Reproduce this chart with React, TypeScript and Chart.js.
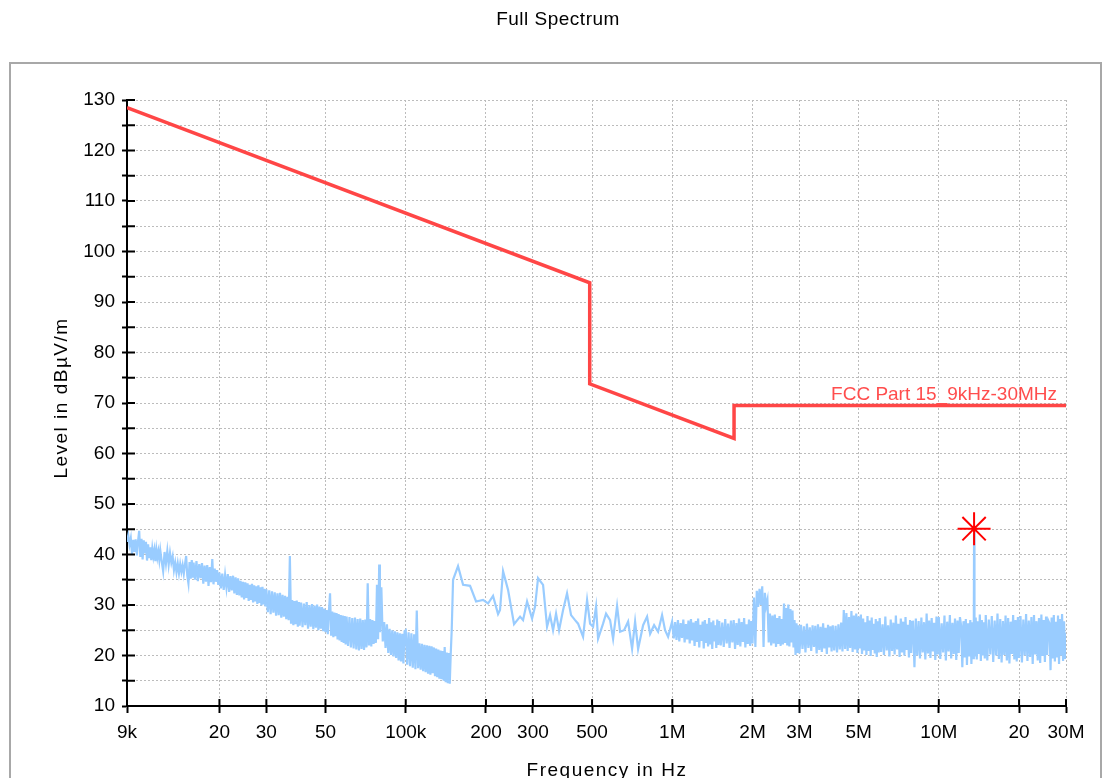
import React, { useEffect, useRef } from "react";
import { Chart, registerables } from "chart.js";

Chart.register(...registerables);

const titleText = "Full Spectrum";
const yAxisTitle = "Level in dBµV/m";
const xAxisTitle = "Frequency in Hz";
const limitLabel = "FCC Part 15_9kHz-30MHz";

const xTickValues = [9e3, 20e3, 30e3, 50e3, 100e3, 200e3, 300e3, 500e3, 1e6, 2e6, 3e6, 5e6, 10e6, 20e6, 30e6];
const xTickLabels = ["9k", "20", "30", "50", "100k", "200", "300", "500", "1M", "2M", "3M", "5M", "10M", "20", "30M"];
const yTickValues = [10, 15, 20, 25, 30, 35, 40, 45, 50, 55, 60, 65, 70, 75, 80, 85, 90, 95, 100, 105, 110, 115, 120, 125, 130];
const yTickLabels = ["10", "", "20", "", "30", "", "40", "", "50", "", "60", "", "70", "", "80", "", "90", "", "100", "", "110", "", "120", "", "130"];

// FCC limit line (Hz, dBµV/m)
const limitFreqHz = [9e3, 490e3, 490e3, 1.705e6, 1.705e6, 30e6];
const limitLevel = [128.5, 93.8, 73.8, 63.0, 69.5, 69.5];

// peak marker
const markerFreqHz = [13.56e6];
const markerLevel = [45.1];

// ---- measured trace, swept in segments (start, step in kHz or MHz; levels in dBµV/m) ----
const lvl9k = [42.5, 43.8, 41.9, 43.2, 40.1, 42.9, 40.5, 43.0, 39.8, 42.6, 44.7, 39.5, 43.1, 39.0, 42.8, 40.2, 42.5, 38.8, 42.0, 39.3, 41.4, 38.9, 41.2, 39.6, 40.9, 38.7, 41.0, 39.4, 40.6, 38.9];
const lvl12k = [40.8, 38.6, 36.7, 40.5, 38.2, 40.7, 38.0, 40.3, 38.4, 39.6, 36.9, 38.4, 36.5, 38.2, 36.3, 38.1, 36.6, 37.9, 36.2, 38.0, 39.7, 35.8, 34.3, 38.5, 35.2, 38.9, 35.4];
const lvl16k = [38.4, 35.0, 38.7, 34.7, 38.1, 35.3, 38.3, 34.2, 37.8, 34.6, 37.9, 33.8, 37.5, 34.5, 39.1, 34.1, 37.2, 34.6, 36.9, 34.0];
const lvl20k = [36.4, 33.3, 36.2, 33.0, 35.9, 33.4, 36.1, 32.6, 35.7, 32.9, 35.8, 32.3, 35.5, 32.0, 35.3, 31.9, 34.8, 31.5, 34.6, 31.1, 34.5, 31.4, 34.3, 30.8, 34.0, 31.0, 34.2, 30.5, 33.9, 30.7, 33.7, 30.2, 33.9, 30.4, 33.5, 29.9, 33.6, 30.1, 33.2, 29.7];
const lvl30k = [33.1, 28.6, 32.9, 28.2, 32.7, 28.5, 32.5, 27.9, 32.3, 28.0, 32.4, 27.5, 32.0, 27.7, 31.8, 27.2, 31.6, 27.0, 39.7, 26.3, 31.0, 26.0, 30.8, 26.2, 30.9, 25.7, 30.6];
const lvl40k = [25.9, 30.5, 25.6, 30.3, 26.0, 30.6, 25.3, 30.0, 25.7, 30.2, 25.2, 29.9, 25.5, 30.1, 25.0, 29.7, 25.3, 29.6, 24.8, 29.3, 24.6, 29.0, 24.2, 28.8, 32.3, 23.9, 28.7, 23.6, 28.5, 23.8, 28.4, 23.2, 28.2, 23.0, 28.0, 22.7, 27.9, 22.5, 27.8, 22.2];
const lvl60k = [27.7, 21.9, 27.6, 21.6, 27.4, 21.4, 27.5, 21.2, 27.2, 21.0, 27.3, 21.3, 27.0, 21.1, 27.1, 21.6, 34.3, 22.0, 27.2, 21.8, 27.0, 22.3, 26.8, 22.5, 34.0, 23.2, 38.0];
const lvl80k = [24.6, 33.5, 22.8, 26.6, 21.5, 26.2, 20.5, 25.3, 20.1, 25.0, 19.8, 24.8, 19.5, 24.6, 19.0, 24.4, 18.8, 24.3, 18.4, 24.8];
const lvl100k = [25.0, 18.2, 24.6, 17.9, 24.4, 17.6, 24.2, 17.3, 28.9, 17.5, 22.4, 17.2, 22.3, 16.9, 22.1, 16.7, 22.0, 16.4, 21.9, 16.2, 21.8, 16.5, 21.6, 15.9, 21.4, 15.7, 21.2, 15.4, 21.0, 15.3, 20.9, 15.0, 21.7, 14.7, 20.6, 14.5, 20.5, 14.4, 20.3, 25.0];

const lowSegmentsKHz = [
  { start: 9.0, step: 0.1, levels: lvl9k },
  { start: 12.0, step: 0.15, levels: lvl12k },
  { start: 16.0, step: 0.2, levels: lvl16k },
  { start: 20.0, step: 0.25, levels: lvl20k },
  { start: 30.0, step: 0.375, levels: lvl30k },
  { start: 40.0, step: 0.5, levels: lvl40k },
  { start: 60.0, step: 0.75, levels: lvl60k },
  { start: 80.0, step: 1.0, levels: lvl80k },
  { start: 100.0, step: 1.25, levels: lvl100k },
];

// 150 kHz - 1 MHz (kHz, dBµV/m)
const midBandKHz: [number, number][] = [
  [150.5, 35.0], [157.1, 37.7], [164.1, 34.0], [170, 33.9], [174.3, 33.8], [183.6, 30.7], [195.0, 31.0], [203.6, 30.3], [212.6, 31.8], [222.0, 28.2],
  [225.8, 29.0], [231.8, 36.7], [242.0, 33.0], [254.9, 26.2], [268.5, 27.7], [275.5, 27.0], [285.2, 30.7], [297.8, 27.3], [305.6, 29.7], [313.6, 35.3],
  [327.5, 34.0], [339.0, 25.7], [347.9, 28.0], [357.0, 25.0], [366.4, 28.3], [376.0, 25.0], [389.3, 29.0], [402.9, 32.3], [417.1, 28.0], [431.8, 27.0],
  [443.2, 26.3], [462.7, 23.7], [479.0, 31.0], [491.6, 26.3], [504.5, 25.7], [517.7, 29.7], [526.7, 23.3], [550.0, 26.3], [564.4, 28.3], [584.3, 27.0],
  [599.7, 23.3], [620.7, 29.8], [637.1, 24.7], [659.5, 25.0], [682.7, 26.7], [706.7, 21.3], [725.2, 26.7], [744.3, 21.3], [777.2, 26.0], [804.4, 27.7],
  [825.7, 24.3], [854.6, 26.0], [884.5, 24.7], [915.6, 28.0], [939.6, 25.0], [964.4, 23.7], [998.3, 26.7],
];

const lvl1M = [23.4, 26.6, 23.1, 27.0, 22.8, 26.4, 23.5, 27.1, 22.6, 26.2, 23.2, 26.9, 22.4, 27.2, 23.0, 26.5, 21.9, 26.8, 22.7, 27.3, 21.6, 26.1, 22.9, 26.7, 21.4, 27.0, 22.5, 26.3, 21.8, 27.4, 22.2, 26.6, 21.3, 26.9, 22.8, 26.0, 21.5, 27.1, 22.1];
const lvl1M5 = [26.8, 22.0, 26.5, 21.7, 27.2, 22.4, 26.3, 21.5, 26.9, 22.6, 27.0, 21.3, 26.4, 22.1, 27.3, 21.8, 26.6, 22.7, 27.4, 21.6, 26.2, 22.3, 27.1, 21.9, 26.8];
const lvl2M = [22.4, 31.5, 21.7, 32.8, 29.6, 33.2, 30.0, 33.7, 21.7, 32.4, 29.8, 31.0, 22.6, 28.3, 22.0, 27.9, 22.4, 28.1, 21.7, 27.4, 22.3, 27.8, 21.9, 27.2, 22.2, 30.3, 22.5, 29.4, 22.0, 30.1, 21.8, 29.2, 22.6, 28.9, 21.6, 27.0, 20.1, 26.4, 20.5, 26.0];
const lvl3M = [20.4, 26.1, 21.3, 25.8, 20.6, 26.3, 21.5, 25.6, 20.9, 26.0, 21.7, 25.9, 20.4, 26.2, 21.1, 25.7, 20.7, 26.4, 21.4, 25.5, 20.3, 26.1, 21.6, 25.8, 20.8];
const lvl4M = [26.0, 21.0, 25.9, 20.6, 26.2, 21.2, 26.5, 20.8, 29.0, 21.3, 28.4, 20.9, 27.6, 21.5, 28.8, 20.7, 27.9, 21.2, 28.3, 20.5, 27.7, 21.4, 28.1, 20.3, 27.3, 21.0, 26.6, 20.1, 27.8, 20.9, 26.9, 19.9, 27.5, 21.1, 26.3, 20.4, 27.2, 19.7, 26.8, 20.6];
const lvl6M = [27.4, 20.7, 26.2, 20.1, 27.7, 21.0, 26.0, 19.8, 27.1, 20.9, 26.5, 20.2, 27.9, 21.2, 26.3, 19.7, 27.3, 20.6, 26.7, 20.0, 27.6, 21.1, 26.1, 19.6, 27.0, 20.5, 26.6];
const lvl8M = [26.9, 17.7, 27.3, 20.0, 26.8, 19.4, 27.5, 20.6, 26.6, 19.2, 28.3, 20.4, 26.9, 19.5, 27.4, 20.8, 26.5, 19.1, 27.7, 20.2];
const lvl10M = [27.6, 19.3, 26.4, 20.6, 27.9, 19.0, 26.7, 20.8, 28.0, 19.4, 26.5, 20.3, 27.3, 19.1, 26.9, 20.5, 27.6, 25.9, 17.7, 26.8, 19.6, 27.2, 18.1, 26.4, 19.8, 27.0, 18.3, 26.6, 19.5];
const lvlSpike = [26.5, 45.1, 25.8];
const lvl13M6 = [19.8, 27.5, 19.2, 26.8, 20.3, 28.1, 18.9, 27.0, 20.0, 26.6, 19.4];
const lvl15M = [28.0, 19.0, 27.1, 20.2, 27.8, 18.7, 26.9, 20.0, 28.3, 19.3, 27.2, 18.6, 26.8, 20.1, 27.9, 19.0, 27.4, 18.4, 26.7, 20.3, 28.0, 19.2, 27.0, 18.8, 27.6];
const lvl20M = [19.5, 27.8, 18.6, 27.1, 20.0, 28.2, 18.9, 26.9, 19.7, 27.6, 18.3, 28.0, 20.2, 26.8, 19.0, 27.4, 18.5, 28.1, 19.9, 27.0, 18.7, 27.7, 20.1, 26.9, 26.4, 17.1, 27.5, 19.4, 28.0, 18.8, 26.7, 19.6, 27.9, 18.3, 27.2, 20.0, 28.2, 18.9, 26.8, 19.3, 24.5];

const highSegmentsMHz = [
  { start: 1.0125, step: 0.0125, levels: lvl1M },
  { start: 1.5, step: 0.02, levels: lvl1M5 },
  { start: 2.0, step: 0.025, levels: lvl2M },
  { start: 3.0, step: 0.04, levels: lvl3M },
  { start: 4.0, step: 0.05, levels: lvl4M },
  { start: 6.0, step: 0.075, levels: lvl6M },
  { start: 8.0, step: 0.1, levels: lvl8M },
  { start: 10.0, step: 0.125, levels: lvl10M },
  { start: 13.53, step: 0.03, levels: lvlSpike },
  { start: 13.625, step: 0.125, levels: lvl13M6 },
  { start: 15.0, step: 0.2, levels: lvl15M },
  { start: 20.0, step: 0.25, levels: lvl20M },
];

const FONT = '"Liberation Sans", Arial, sans-serif';

const decorPlugin = {
  id: "decor",
  beforeDraw(chart: any) {
    const ctx = chart.ctx;
    ctx.save();
    ctx.fillStyle = "#ffffff";
    ctx.fillRect(0, 0, chart.width, chart.height);
    ctx.strokeStyle = "#a8a8a8";
    ctx.lineWidth = 2;
    ctx.strokeRect(10, 63, 1091, 800);
    ctx.restore();
  },
  afterDraw(chart: any) {
    const { ctx, chartArea, scales } = chart;
    const xs = scales.x;
    const ys = scales.y;
    ctx.save();
    ctx.strokeStyle = "#000";
    ctx.lineWidth = 2;
    ctx.beginPath();
    for (const t of ys.ticks) {
      const py = ys.getPixelForValue(t.value);
      ctx.moveTo(chartArea.left, py);
      ctx.lineTo(chartArea.left + 8, py);
    }
    for (const t of xs.ticks) {
      const px = xs.getPixelForValue(t.value);
      ctx.moveTo(px, chartArea.bottom);
      ctx.lineTo(px, chartArea.bottom - 7);
    }
    ctx.stroke();

    ctx.fillStyle = "#000";
    ctx.textAlign = "center";
    ctx.textBaseline = "middle";
    (ctx as any).letterSpacing = "0.5px";
    ctx.font = `19px ${FONT}`;
    ctx.fillText(titleText, 558, 20);

    (ctx as any).letterSpacing = "1.5px";
    ctx.font = `19px ${FONT}`;
    ctx.fillText(xAxisTitle, 607, 771);
    ctx.save();
    ctx.translate(62, 398);
    ctx.rotate(-Math.PI / 2);
    ctx.fillText(yAxisTitle, 0, 0);
    ctx.restore();
    (ctx as any).letterSpacing = "0px";

    ctx.fillStyle = "#ff4d4d";
    ctx.font = `19px ${FONT}`;
    ctx.textAlign = "right";
    ctx.textBaseline = "alphabetic";
    const lx = xs.getPixelForValue(limitFreqHz[limitFreqHz.length - 1]) - 9;
    const ly = ys.getPixelForValue(limitLevel[limitLevel.length - 1]) - 6;
    ctx.fillText(limitLabel, lx, ly);
    ctx.restore();
  },
};

function expand(segments: { start: number; step: number; levels: number[] }[], unit: number) {
  const out: { x: number; y: number }[] = [];
  for (const s of segments) {
    s.levels.forEach((v, i) => out.push({ x: (s.start + i * s.step) * unit, y: v }));
  }
  return out;
}

export default function App() {
  const canvasRef = useRef<HTMLCanvasElement | null>(null);

  useEffect(() => {
    const canvas = canvasRef.current;
    if (!canvas) return;
    Chart.defaults.font.family = FONT;

    const trace = [
      ...expand(lowSegmentsKHz, 1e3),
      ...midBandKHz.map(([f, v]) => ({ x: f * 1e3, y: v })),
      ...expand(highSegmentsMHz, 1e6),
    ];
    const limit = limitFreqHz.map((f, i) => ({ x: f, y: limitLevel[i] }));
    const marker = markerFreqHz.map((f, i) => ({ x: f, y: markerLevel[i] }));

    const chart = new Chart(canvas, {
      type: "scatter",
      data: {
        datasets: [
          {
            label: "Marker",
            data: marker,
            showLine: false,
            pointStyle: "star",
            pointRadius: 16.5,
            borderColor: "#ff0000",
            backgroundColor: "#ff0000",
            pointBorderWidth: 2,
          } as any,
          {
            label: "Limit",
            data: limit,
            showLine: true,
            borderColor: "#ff4646",
            borderWidth: 3.5,
            pointRadius: 0,
            tension: 0,
          },
          {
            label: "Trace",
            data: trace,
            showLine: true,
            borderColor: "#99ccff",
            borderWidth: 2.2,
            pointRadius: 0,
            tension: 0,
          },
        ],
      },
      options: {
        animation: false,
        responsive: false,
        devicePixelRatio: 1,
        layout: { padding: { left: 0, right: 38, top: 100, bottom: 0 } },
        plugins: {
          legend: { display: false },
          tooltip: { enabled: false },
          title: { display: false },
        },
        scales: {
          x: {
            type: "logarithmic",
            min: 9e3,
            max: 30e6,
            afterBuildTicks: (s: any) => {
              s.ticks = xTickValues.map((v) => ({ value: v }));
            },
            afterFit: (s: any) => {
              s.height = 94;
            },
            ticks: {
              autoSkip: false,
              maxRotation: 0,
              minRotation: 0,
              padding: 8,
              color: "#000",
              font: { size: 19, family: FONT },
              callback: (_v: any, i: number) => xTickLabels[i],
            },
            grid: {
              color: "#bcbcbc",
              lineWidth: 1,
              drawTicks: true,
              tickLength: 7,
              tickColor: "#000",
              tickWidth: 2,
            },
            border: { display: true, color: "#000", width: 2, dash: [2, 2] },
          },
          y: {
            type: "linear",
            min: 10,
            max: 130,
            afterBuildTicks: (s: any) => {
              s.ticks = yTickValues.map((v) => ({ value: v }));
            },
            afterFit: (s: any) => {
              s.width = 127;
            },
            ticks: {
              autoSkip: false,
              padding: 7,
              color: "#000",
              font: { size: 19, family: FONT },
              callback: (_v: any, i: number) => yTickLabels[i],
            },
            grid: {
              color: "#bcbcbc",
              lineWidth: 1,
              drawTicks: true,
              tickLength: 5,
              tickColor: "#000",
              tickWidth: 2,
            },
            border: { display: true, color: "#000", width: 2, dash: [2, 2] },
          },
        },
      },
      plugins: [decorPlugin],
    } as any);

    return () => chart.destroy();
  }, []);

  return (
    <div
      style={{
        position: "fixed",
        left: 0,
        top: 0,
        width: 1104,
        height: 778,
        overflow: "hidden",
        background: "#fff",
      }}
    >
      <canvas ref={canvasRef} width={1104} height={800} style={{ width: 1104, height: 800, display: "block" }} />
    </div>
  );
}
